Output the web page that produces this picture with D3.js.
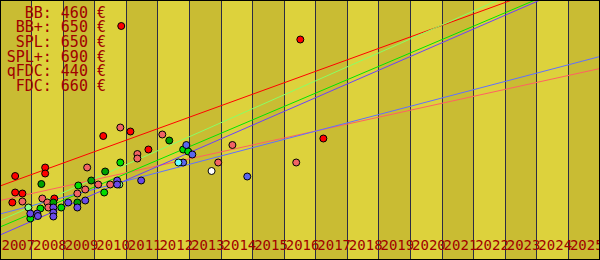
<!DOCTYPE html>
<html>
<head>
<meta charset="utf-8">
<script src="https://cdn.jsdelivr.net/npm/d3@7/dist/d3.min.js"></script>
<style>
  body { margin: 0; background: #fff; }
  svg { display: block; }
</style>
</head>
<body>
<script>
  var w = 600
  var h = 260

  // tick labels / legend
  var years = d3.range(2007, 2026)
  var legendNames = ["BB", "BB+", "SPL", "SPL+", "qFDC", "FDC"]
  var legendPrices = [460, 650, 650, 690, 440, 660]

  // observed prices  [year, price €]
  var bbPoints = [[2007.39, 215], [2007.48, 268], [2007.48, 235], [2007.71, 233], [2008.43, 285],
      [2008.43, 273], [2008.72, 223], [2010.27, 348], [2010.84, 568], [2011.13, 357],
      [2011.70, 321], [2016.51, 541], [2017.24, 343]]
  var bbPlusPoints = [[2007.71, 217], [2008.34, 223], [2008.50, 215], [2008.53, 205], [2009.45, 233],
      [2009.70, 241], [2009.76, 285], [2010.11, 251], [2010.49, 251], [2010.81, 365],
      [2011.35, 312], [2011.35, 303], [2012.14, 351], [2013.91, 295], [2014.36, 330],
      [2016.38, 295]]
  var splPoints = [[2007.96, 183], [2008.28, 203], [2008.94, 205], [2009.48, 249], [2010.30, 235],
      [2010.81, 295], [2012.80, 321], [2012.96, 317]]
  var splPlusPoints = [[2008.31, 252], [2008.69, 215], [2009.45, 215], [2009.89, 259], [2010.33, 277],
      [2012.36, 339]]
  var splPlusNewPoints = [[2007.90, 205], [2010.78, 251]]
  var qfdcPoints = [[2007.96, 193], [2008.18, 193], [2008.20, 188], [2008.69, 205], [2008.69, 195],
      [2008.69, 187], [2009.16, 215], [2009.45, 205], [2009.70, 219], [2010.71, 259],
      [2010.71, 251], [2011.47, 259]]
  var fdcPoints = [[2012.80, 295], [2012.90, 330], [2013.09, 311], [2014.83, 267]]
  var cyanPoints = [[2012.65, 295]]
  var whitePoints = [[2013.70, 278]]

  // trend: price at 2007 and 2026
  var trendFrom = [248, 219, 166, 179, 150, 192]
  var trendTo = [684, 483, 675, 710, 672, 507]

  var lineColors = ["#ff0000", "#ff6262", "#00e600", "#88ff66", "#6a40ff", "#6070ff"]

  var groups = [
      { pts: bbPoints, color: "#ff0000" },
      { pts: bbPlusPoints, color: "#f26464" },
      { pts: splPlusPoints, color: "#00a000" },
      { pts: splPoints, color: "#00dd00" },
      { pts: splPlusNewPoints, color: "#88ff88" },
      { pts: qfdcPoints, color: "#6a4ae8" },
      { pts: fdcPoints, color: "#5a66f0" },
      { pts: cyanPoints, color: "#66ffff" },
      { pts: whitePoints, color: "#ffffff" }
  ]

  //SCALES

  var x = d3.scaleLinear()
      .domain([2007, 2026])
      .range([0, w])

  var y = d3.scaleLinear()
      .domain([100, 620])
      .range([h, 0])

  var svg = d3.select("body")
      .append("svg")
      .attr("width", w)
      .attr("height", h)

  //BANDS

  svg.selectAll("rect.band")
      .data(years)
      .enter()
      .append("rect")
      .attr("class", "band")
      .attr("x", function (d) { return Math.floor(x(d)); })
      .attr("y", 0)
      .attr("width", function (d) { return Math.floor(x(d + 1)) - Math.floor(x(d)); })
      .attr("height", h)
      .attr("fill", function (d, i) {
          return i % 2 == 0 ? "#c9bc33" : "#ddd23c";
      })

  //GRID

  svg.selectAll("line.grid")
      .data(years.slice(1))
      .enter()
      .append("line")
      .attr("class", "grid")
      .attr("x1", function (d) { return Math.floor(x(d)) + 0.5; })
      .attr("x2", function (d) { return Math.floor(x(d)) + 0.5; })
      .attr("y1", 0)
      .attr("y2", h)
      .attr("stroke", "#2c2c44")
      .attr("stroke-width", 1)

  //AXIS LABELS

  var axis = d3.axisBottom(x)
      .tickValues(years)
      .tickSize(0)
      .tickFormat(d3.format("d"))

  var gx = svg.append("g")
      .attr("transform", "translate(0,0)")
      .call(axis)
  gx.select(".domain").remove()
  gx.selectAll("text")
      .attr("x", 1)
      .attr("y", 250)
      .attr("dy", 0)
      .attr("text-anchor", "start")
      .attr("font-family", "'DejaVu Sans Mono', monospace")
      .attr("font-size", "14px")
      .attr("fill", "#a00000")

  //TREND LINES

  svg.selectAll("line.trend")
      .data(trendFrom)
      .enter()
      .append("line")
      .attr("class", "trend")
      .attr("x1", x(2007))
      .attr("y1", function (d) { return y(d); })
      .attr("x2", x(2026))
      .attr("y2", function (d, i) { return y(trendTo[i]); })
      .attr("stroke", function (d, i) { return lineColors[i]; })
      .attr("stroke-width", 1)

  //POINTS

  groups.forEach(function (g) {
      svg.append("g")
          .selectAll("circle")
          .data(g.pts)
          .enter()
          .append("circle")
          .attr("cx", function (d) { return x(d[0]); })
          .attr("cy", function (d) { return y(d[1]); })
          .attr("r", 3.5)
          .attr("fill", g.color)
          .attr("stroke", "#000")
          .attr("stroke-width", 1)
  })

  //LEGEND

  svg.selectAll("text.legend")
      .data(legendNames)
      .enter()
      .append("text")
      .attr("class", "legend")
      .attr("x", 106)
      .attr("y", function (d, i) { return 17.7 + i * 14.6; })
      .attr("text-anchor", "end")
      .attr("font-family", "'DejaVu Sans Mono', monospace")
      .attr("font-size", "15px")
      .attr("fill", "#a00000")
      .text(function (d, i) { return d + ": " + legendPrices[i] + " €"; })

  //BORDER

  svg.append("rect")
      .attr("x", 0.5)
      .attr("y", 0.5)
      .attr("width", w - 1)
      .attr("height", h - 1)
      .attr("fill", "none")
      .attr("stroke", "#000")
</script>
</body>
</html>
